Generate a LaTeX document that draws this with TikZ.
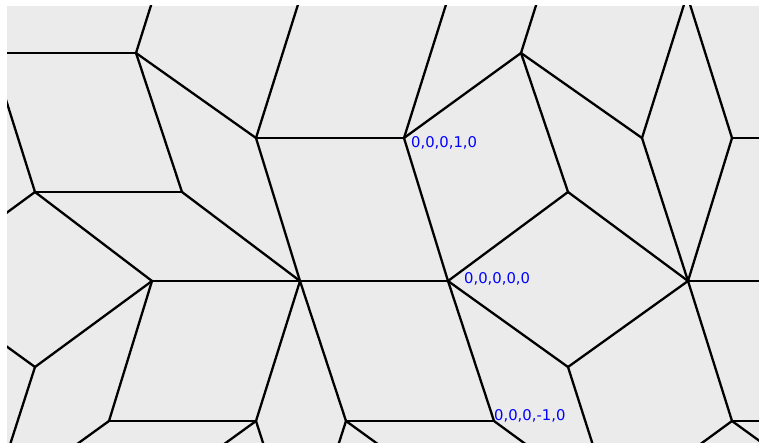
\documentclass[tikz,border=0pt]{standalone}
\usepackage{fontspec}
\newfontfamily\labelfont{DejaVu Sans}
\usetikzlibrary{positioning}
\definecolor{tilebg}{RGB}{235,235,235}

\begin{document}
\begin{tikzpicture}[x=1pt, y=-1pt,
    edge/.style={line width=2.3pt, line join=round, line cap=round},
    vlabel/.style={anchor=west, inner sep=0pt, text=blue,
      font=\labelfont\fontsize{14.8}{16}\selectfont}]
    \useasboundingbox (0,0) rectangle (759,443);
    \fill[white] (0,0) rectangle (759,443);
    \fill[tilebg] (7,6) rectangle (759,443);
    % vertices of the tiling
    \coordinate (p1) at (136,53);
    \coordinate (p2) at (521,53);
    \coordinate (q1) at (256,138);
    \coordinate (q2) at (404,138);
    \coordinate (q3) at (642,138);
    \coordinate (q4) at (732,138);
    \coordinate (r1) at (35,192);
    \coordinate (r2) at (182,192);
    \coordinate (r3) at (568,192);
    \coordinate (s1) at (152,281);
    \coordinate (s2) at (300,281);
    \coordinate (s3) at (448,281);
    \coordinate (s4) at (688,281);
    \coordinate (t1) at (35,367);
    \coordinate (t2) at (568,367);
    \coordinate (u1) at (109,421);
    \coordinate (u2) at (256,421);
    \coordinate (u3) at (346,421);
    \coordinate (u4) at (494,421);
    \coordinate (u5) at (732,421);
    % vertices outside the frame
    \coordinate (o1) at (-12,53);
    \coordinate (o2) at (181,-90);
    \coordinate (o3) at (301,-5);
    \coordinate (o4) at (449,-5);
    \coordinate (o5) at (566,-90);
    \coordinate (o6) at (687,-5);
    \coordinate (o7) at (880,138);
    \coordinate (o8) at (-10,49);
    \coordinate (o9) at (-85,280);
    \coordinate (o10) at (-10,507);
    \coordinate (o11) at (136,508);
    \coordinate (o12) at (301,561);
    \coordinate (o13) at (466,508);
    \coordinate (o14) at (613,508);
    \coordinate (o15) at (836,281);
    \coordinate (o16) at (880,421);
    \coordinate (o17) at (852,508);
    \begin{scope}
      \clip (7,6) rectangle (759,443);
      \foreach \a/\b in {o1/p1, p1/o2, p1/r2, p1/q1, q1/o3, q1/q2, q1/s2,
          q2/o4, q2/p2, q2/s3, p2/o5, p2/r3, p2/q3, q3/o6, q4/o6, q3/s4,
          q4/o7, q4/s4, r3/s3, r3/s4, r1/o8, r1/r2, r1/o9, r1/s1, r2/s2,
          s1/s2, s2/s3, s1/t1, t1/o9, t1/o10, s1/u1, u1/u2, u1/o10,
          u2/s2, u2/o11, u2/o12, s2/u3, u3/u4, u3/o12, u3/o13, s3/u4,
          s3/t2, t2/s4, t2/o14, u4/o14, s4/o15, s4/u5, u5/o16, u5/o14,
          u5/o17}
        \draw[edge] (\a) -- (\b);
    \end{scope}
    % lattice labels
    \node[vlabel] (lab1) at (411,142.7) {0,0,0,1,0};
    \node[vlabel] (lab0) at (464,279) {0,0,0,0,0};
    \node[vlabel] (lab2) at (494,416) {0,0,0,-1,0};
\end{tikzpicture}
\end{document}
